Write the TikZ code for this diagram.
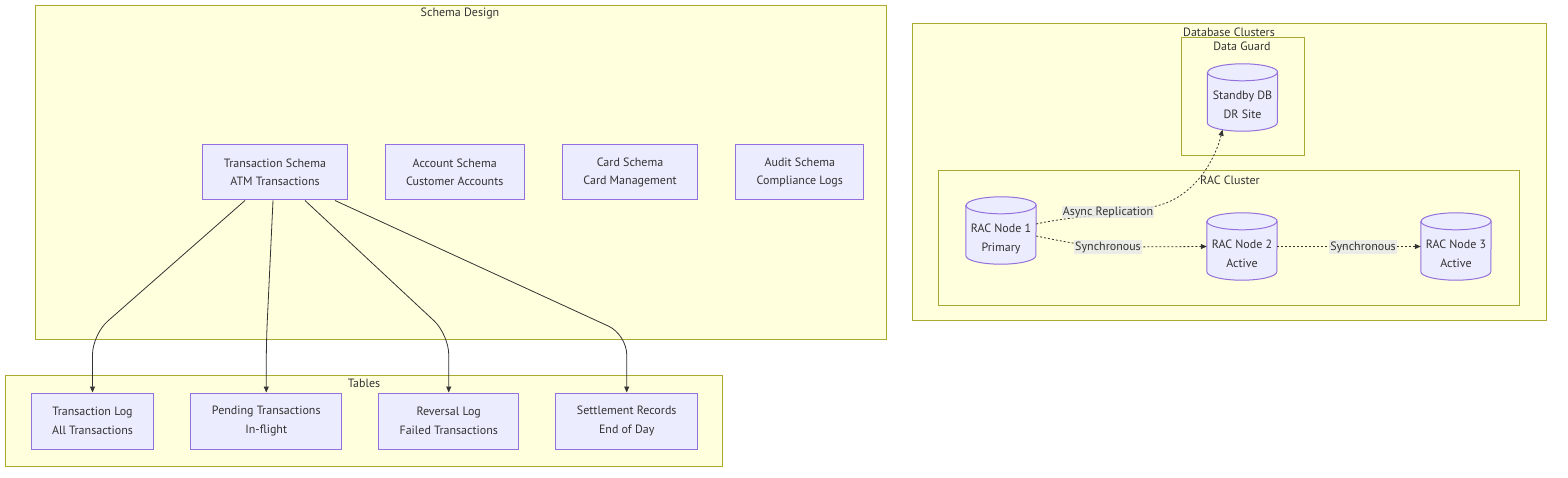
\documentclass[tikz,border=0pt]{standalone}
\usepackage{fontspec}
\setmainfont{PT Sans}
\usetikzlibrary{positioning,arrows.meta}
\definecolor{clusterfill}{HTML}{FFFFDE}
\definecolor{clusterline}{HTML}{AAAA33}
\definecolor{boxfill}{HTML}{ECECFF}
\definecolor{boxline}{HTML}{9370DB}
\definecolor{edgeline}{HTML}{333333}
\definecolor{labelfill}{HTML}{E8E8E8}
\pgfdeclarelayer{clusters}
\pgfdeclarelayer{background}
\pgfsetlayers{clusters,background,main}
\newcommand{\diagfont}{\fontsize{12}{18.5}\selectfont}
\tikzset{
    cluster/.style={draw=clusterline, fill=clusterfill, line width=1pt},
    cluster_title/.style={text=edgeline, inner sep=0pt, font=\diagfont},
    box/.style={rectangle, draw=boxline, fill=boxfill, line width=1pt, minimum height=55pt, inner xsep=21pt, align=center, font=\diagfont, text=edgeline},
    db/.style={rectangle, minimum width=70pt, minimum height=67pt, align=center, font=\diagfont, text=edgeline, inner sep=0pt, text height=46pt, text depth=4pt},
    db_shape/.style={draw=boxline, fill=boxfill, line width=1pt},
    line/.style={-{Triangle[length=6pt,width=5pt]}, draw=edgeline, line width=0.8pt},
    dotline/.style={line, dash pattern=on 2pt off 2pt},
    edge_label/.style={fill=labelfill, fill opacity=0.8, text opacity=1, inner xsep=1pt, inner ysep=1pt, font=\diagfont, text=edgeline},
}
\begin{document}
\begin{tikzpicture}
        [x=1pt, y=-1pt, node distance=37pt]
        \useasboundingbox (0,0) rectangle (1568,478);

        % Clusters
        \begin{pgfonlayer}{clusters}
        \draw[cluster] (35,6) rectangle (886,339);
        \draw[cluster] (5,375) rectangle (722,466);
        \draw[cluster] (912,24) rectangle (1546,320);
        \draw[cluster] (1181,38) rectangle (1304,156);
        \draw[cluster] (938,171) rectangle (1519,305);
        \end{pgfonlayer}
        \node[cluster_title] at (460,14) {Schema Design};
        \node[cluster_title] at (364,383) {Tables};
        \node[cluster_title] at (1229,32) {Database Clusters};
        \node[cluster_title] at (1242,46) {Data Guard};
        \node[cluster_title] at (1230,180) {RAC Cluster};

        % Schema nodes
        \node[box] (txn_schema) at (275,172.5) {Transaction Schema\\ATM Transactions};
        \node[box,right=of txn_schema] (acct_schema) {Account Schema\\Customer Accounts};
        \node[box,right=of acct_schema] (card_schema) {Card Schema\\Card Management};
        \node[box,right=of card_schema] (audit_schema) {Audit Schema\\Compliance Logs};

        % Table nodes
        \node[box,minimum height=56pt] (txn_log) at (92.5,421) {Transaction Log\\All Transactions};
        \node[box,minimum height=56pt,right=36pt of txn_log] (pending) {Pending Transactions\\In-flight};
        \node[box,minimum height=56pt,right=36pt of pending] (reversal) {Reversal Log\\Failed Transactions};
        \node[box,minimum height=56pt,right=36pt of reversal] (settlement) {Settlement Records\\End of Day};

        % Database nodes
        \node[db] (standby) at (1242.5,97.5) {Standby DB\\DR Site};
        \node[db] (rac1) at (1001,230.5) {RAC Node 1\\Primary};
        \node[db] (rac2) at (1242,246.5) {RAC Node 2\\Active};
        \node[db] (rac3) at (1456,246.5) {RAC Node 3\\Active};

        % Cylinders behind the database nodes
        \begin{pgfonlayer}{background}
        \foreach \n in {standby,rac1,rac2,rac3} {
            \draw[db_shape] ([yshift=-8.5pt]\n.north west) -- ([yshift=8.5pt]\n.south west)
                arc[start angle=180, end angle=360, x radius=35pt, y radius=8.5pt]
                -- ([yshift=-8.5pt]\n.north east)
                arc[start angle=0, end angle=180, x radius=35pt, y radius=8.5pt] -- cycle;
            \draw[db_shape, fill=none] ([yshift=-8.5pt]\n.north west)
                arc[start angle=180, end angle=360, x radius=35pt, y radius=8.5pt];
        }
        \end{pgfonlayer}

        % Lines
        \draw[line, rounded corners=20pt] ([xshift=-30pt]txn_schema.south) -- ([yshift=58pt]txn_log.north) -- (txn_log.north);
        \draw[line, rounded corners=20pt] ([xshift=-2pt]txn_schema.south) -- ([yshift=50pt]pending.north) -- (pending.north);
        \draw[line, rounded corners=20pt] ([xshift=30pt]txn_schema.south) -- ([yshift=58pt]reversal.north) -- (reversal.north);
        \draw[line, rounded corners=20pt] ([xshift=60pt]txn_schema.south) -- ([yshift=58pt]settlement.north) -- (settlement.north);

        \coordinate (async_pos) at (1108,212);
        \coordinate (sync_pos) at (1108,247);
        \draw[dotline] ([yshift=6.5pt]rac1.east) .. controls (1070,216) and (1130,214) .. (1160,205)
            .. controls (1195,195) and (1215,160) .. ([xshift=-20pt,yshift=1.5pt]standby.south);
        \draw[dotline] ([yshift=-5.5pt]rac1.east) .. controls (1065,242) and (1090,247) .. (1120,247) -- (rac2.west);
        \draw[dotline] (rac2.east) -- (rac3.west);
        \node[edge_label] at (async_pos) {Async Replication};
        \node[edge_label] at (sync_pos) {Synchronous};
        \node[edge_label] at (1363,247) {Synchronous};

    \end{tikzpicture}
\end{document}
